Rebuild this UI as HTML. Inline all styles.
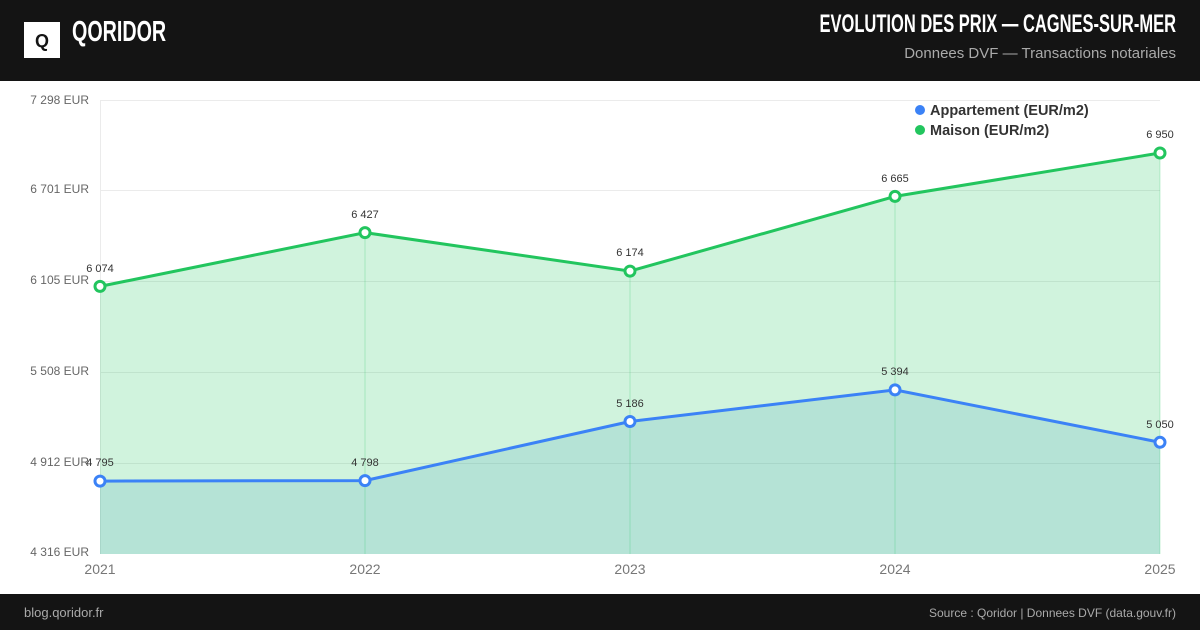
<!DOCTYPE html>
<html><head><meta charset="utf-8"><style>
body{margin:0;width:1200px;height:630px;overflow:hidden;background:#fff;font-family:"Liberation Sans",sans-serif}
</style></head><body>
<svg width="1200" height="630" xmlns="http://www.w3.org/2000/svg" font-family="Liberation Sans, sans-serif">
<rect x="0" y="0" width="1200" height="81" fill="#141414"/>
<rect x="24" y="22" width="36" height="36" fill="#fff"/>
<text x="42" y="47" text-anchor="middle" font-size="18" font-weight="bold" fill="#141414">Q</text>
<text x="72" y="41" font-size="29" font-weight="bold" fill="#fff" transform="translate(72 0) scale(0.68 1) translate(-72 0)">QORIDOR</text>
<text x="1176" y="32" text-anchor="end" font-size="25" font-weight="bold" fill="#fff" transform="translate(1176 0) scale(0.66 1) translate(-1176 0)">EVOLUTION DES PRIX — CAGNES-SUR-MER</text>
<text x="1176" y="58" text-anchor="end" font-size="15" fill="#aaa">Donnees DVF — Transactions notariales</text>
<g stroke="#ebebeb" stroke-width="1">
<line x1="100" x2="1160" y1="100.5" y2="100.5"/><line x1="100" x2="1160" y1="190.5" y2="190.5"/><line x1="100" x2="1160" y1="281.5" y2="281.5"/><line x1="100" x2="1160" y1="372.5" y2="372.5"/><line x1="100" x2="1160" y1="463.5" y2="463.5"/>
<line x1="100.5" x2="100.5" y1="100" y2="554"/>
</g>
<g font-size="12" fill="#666" text-anchor="end">
<text x="89" y="104">7 298 EUR</text><text x="89" y="193">6 701 EUR</text><text x="89" y="284">6 105 EUR</text><text x="89" y="375">5 508 EUR</text><text x="89" y="466">4 912 EUR</text><text x="89" y="556">4 316 EUR</text>
</g>
<polygon points="100,286.4 365,232.6 630,271.1 895,196.4 1160,153 1160,554 100,554" fill="#22c55e" fill-opacity="0.21"/>
<polygon points="100,481.1 365,480.6 630,421.5 895,389.9 1160,442.3 1160,554 100,554" fill="#3b9ab6" fill-opacity="0.18"/>
<g stroke="#22c55e" stroke-opacity="0.25"><line x1="365" x2="365" y1="232" y2="554"/><line x1="630" x2="630" y1="271" y2="554"/><line x1="895" x2="895" y1="196" y2="554"/><line x1="1160" x2="1160" y1="153" y2="554"/></g>
<polyline points="100,286.4 365,232.6 630,271.1 895,196.4 1160,153" fill="none" stroke="#22c55e" stroke-width="3"/>
<polyline points="100,481.1 365,480.6 630,421.5 895,389.9 1160,442.3" fill="none" stroke="#3b82f6" stroke-width="3"/>
<g fill="#fff" stroke="#22c55e" stroke-width="3"><circle cx="100" cy="286.4" r="5"/><circle cx="365" cy="232.6" r="5"/><circle cx="630" cy="271.1" r="5"/><circle cx="895" cy="196.4" r="5"/><circle cx="1160" cy="153" r="5"/></g>
<g fill="#fff" stroke="#3b82f6" stroke-width="3"><circle cx="100" cy="481.1" r="5"/><circle cx="365" cy="480.6" r="5"/><circle cx="630" cy="421.5" r="5"/><circle cx="895" cy="389.9" r="5"/><circle cx="1160" cy="442.3" r="5"/></g>
<g font-size="11" fill="#333" text-anchor="middle">
<text x="100" y="272">6 074</text><text x="365" y="218">6 427</text><text x="630" y="256">6 174</text><text x="895" y="182">6 665</text><text x="1160" y="138">6 950</text>
<text x="100" y="466">4 795</text><text x="365" y="466">4 798</text><text x="630" y="407">5 186</text><text x="895" y="375">5 394</text><text x="1160" y="428">5 050</text>
</g>
<g font-size="14" fill="#777" text-anchor="middle">
<text x="100" y="574">2021</text><text x="365" y="574">2022</text><text x="630" y="574">2023</text><text x="895" y="574">2024</text><text x="1160" y="574">2025</text>
</g>
<circle cx="920" cy="110" r="5" fill="#3b82f6"/><text x="930" y="115" font-size="14.5" font-weight="bold" fill="#333">Appartement (EUR/m2)</text>
<circle cx="920" cy="130" r="5" fill="#22c55e"/><text x="930" y="135" font-size="14.5" font-weight="bold" fill="#333">Maison (EUR/m2)</text>
<rect x="0" y="594" width="1200" height="36" fill="#141414"/>
<text x="24" y="617" font-size="13" fill="#aaa">blog.qoridor.fr</text>
<text x="1176" y="617" text-anchor="end" font-size="12" fill="#aaa">Source : Qoridor | Donnees DVF (data.gouv.fr)</text>
</svg>
</body></html>
